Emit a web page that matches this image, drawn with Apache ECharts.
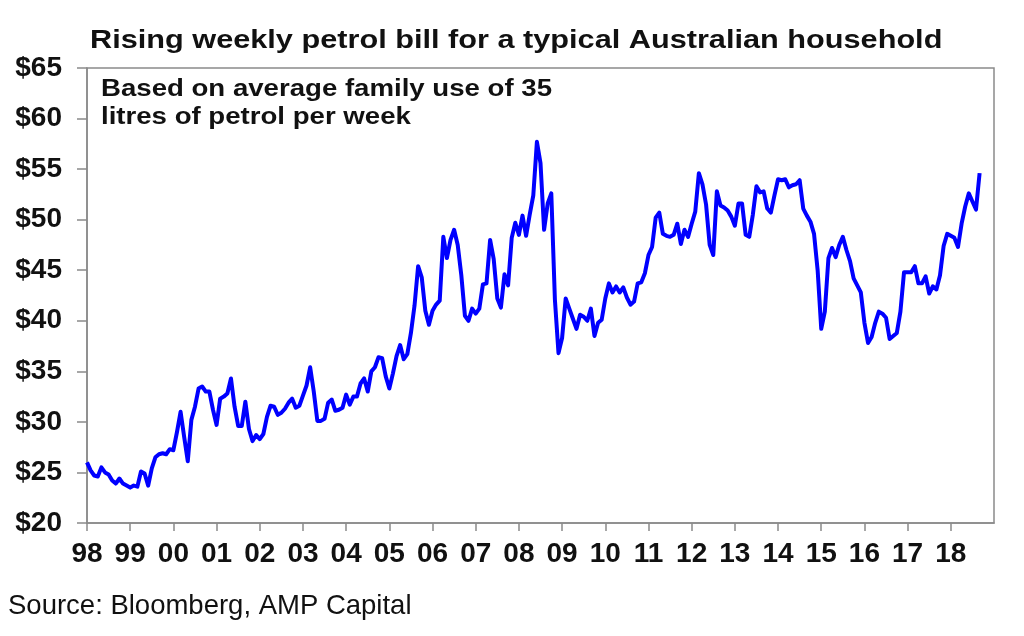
<!DOCTYPE html>
<html>
<head>
<meta charset="utf-8">
<script src="https://cdn.jsdelivr.net/npm/echarts@6/dist/echarts.min.js"></script>
<style>
html,body{margin:0;padding:0;background:#fff;}
#chart{width:1024px;height:636px;}
</style>
</head>
<body>
<div id="chart"></div>
<script>
// Weekly petrol bill (A$), monthly from Jan 1998
var startYear = 1998;
var bill1998to2001 = [
  26.0, 25.2, 24.7, 24.6, 25.5, 25.0, 24.8, 24.2, 23.9, 24.4, 23.9, 23.7,
  23.5, 23.7, 23.6, 25.1, 24.9, 23.7, 25.4, 26.5, 26.8, 26.9, 26.8, 27.3,
  27.2, 29.0, 31.0, 28.5, 26.1, 30.2, 31.5, 33.3, 33.5, 33.0, 33.0, 31.2,
  29.7, 32.3, 32.5, 32.8, 34.3, 31.5, 29.6, 29.6, 32.0, 29.3, 28.1, 28.7
];
var bill2002to2005 = [
  28.3, 28.8, 30.5, 31.6, 31.5, 30.7, 30.9, 31.3, 31.9, 32.3, 31.4, 31.6,
  32.6, 33.6, 35.4, 33.0, 30.1, 30.1, 30.3, 31.9, 32.2, 31.1, 31.2, 31.4,
  32.7, 31.7, 32.5, 32.5, 33.8, 34.3, 33.0, 35.0, 35.4, 36.4, 36.3, 34.5,
  33.3, 34.8, 36.5, 37.6, 36.2, 36.7, 38.8, 41.5, 45.4, 44.3, 41.0, 39.6
];
var bill2006to2009 = [
  41.0, 41.6, 42.0, 48.3, 46.2, 48.0, 49.0, 47.5, 44.5, 40.5, 40.0, 41.2,
  40.7, 41.2, 43.6, 43.7, 48.0, 46.1, 42.2, 41.3, 44.6, 43.5, 48.2, 49.7,
  48.5, 50.4, 48.4, 50.5, 52.4, 57.7, 55.6, 49.0, 51.6, 52.6, 42.1, 36.8,
  38.3, 42.2, 41.2, 40.2, 39.2, 40.6, 40.4, 40.0, 41.2, 38.5, 39.8, 40.1
];
var bill2010to2013 = [
  42.2, 43.7, 42.8, 43.4, 42.8, 43.3, 42.3, 41.6, 41.9, 43.7, 43.8, 44.7,
  46.5, 47.3, 50.2, 50.7, 48.6, 48.4, 48.3, 48.5, 49.6, 47.6, 49.0, 48.3,
  49.6, 50.8, 54.6, 53.5, 51.5, 47.5, 46.5, 52.8, 51.4, 51.2, 50.9, 50.3,
  49.4, 51.6, 51.6, 48.5, 48.3, 50.5, 53.3, 52.7, 52.8, 51.1, 50.7, 52.4
];
var bill2014to2018 = [
  54.0, 53.9, 54.0, 53.2, 53.4, 53.5, 53.9, 51.1, 50.4, 49.8, 48.6, 45.0,
  39.2, 40.9, 46.2, 47.2, 46.3, 47.5, 48.3, 47.0, 45.9, 44.2, 43.5, 42.8,
  39.8, 37.8, 38.4, 39.8, 40.9, 40.7, 40.3, 38.2, 38.5, 38.8, 40.9, 44.8,
  44.8, 44.8, 45.4, 43.7, 43.7, 44.4, 42.7, 43.4, 43.1, 44.5, 47.4, 48.6,
  48.4, 48.2, 47.3, 49.6, 51.3, 52.6, 51.8, 51.0, 54.6
];
var yTicks = [20, 25, 30, 35, 40, 45, 50, 55, 60, 65];
var titleText = 'Rising weekly petrol bill for a typical Australian household';
var noteLines = ['Based on average family use of 35', 'litres of petrol per week'];
var sourceText = 'Source: Bloomberg, AMP Capital';

var bill = [].concat(bill1998to2001, bill2002to2005, bill2006to2009, bill2010to2013, bill2014to2018);
var seriesData = bill.map(function (v, i) { return [startYear + i / 12, v]; });

var chart = echarts.init(document.getElementById('chart'), null, {renderer: 'canvas'});
var FONT = '"Liberation Sans", Arial, Helvetica, sans-serif';
chart.setOption({
  animation: false,
  backgroundColor: '#ffffff',
  grid: {
    left: 87, right: 30, top: 68, bottom: 113,
    show: true, borderColor: '#8a8a8a', borderWidth: 1.5, backgroundColor: 'transparent'
  },
  graphic: [
    {type: 'text', x: 90, y: 28, scaleX: 1.18, scaleY: 1,
     style: {text: titleText, fontFamily: FONT, fontWeight: 'bold', fontSize: 26,
             fill: '#111', verticalAlign: 'top', align: 'left'}},
    {type: 'text', x: 101, y: 76, scaleX: 1.2, scaleY: 1,
     style: {text: noteLines.join('\n'), fontFamily: FONT, fontWeight: 'bold', fontSize: 23,
             lineHeight: 28, fill: '#111', verticalAlign: 'top', align: 'left'}},
    {type: 'text', x: 8, y: 592,
     style: {text: sourceText, fontFamily: FONT, fontWeight: 'normal', fontSize: 27.5,
             fill: '#111', verticalAlign: 'top', align: 'left'}}
  ],
  xAxis: {
    type: 'value', min: 1998, max: 2019, interval: 1,
    axisLine: {show: true, lineStyle: {color: '#8a8a8a', width: 1.5}},
    axisTick: {show: true, length: 8, lineStyle: {color: '#8a8a8a', width: 1.5}},
    splitLine: {show: false},
    axisLabel: {
      margin: 17, fontFamily: FONT, fontWeight: 'bold', fontSize: 28, color: '#111',
      showMinLabel: true, showMaxLabel: false,
      formatter: function (v) { return v >= 2019 ? '' : String(v).slice(2); }
    }
  },
  yAxis: {
    type: 'value', min: yTicks[0], max: yTicks[yTicks.length - 1], interval: 5,
    axisLine: {show: true, lineStyle: {color: '#8a8a8a', width: 1.5}},
    axisTick: {show: true, length: 10, lineStyle: {color: '#8a8a8a', width: 1.5}},
    splitLine: {show: false},
    axisLabel: {
      margin: 25, fontFamily: FONT, fontWeight: 'bold', fontSize: 28, color: '#111',
      formatter: function (v) { return '$' + v; }
    }
  },
  series: [{
    type: 'line', data: seriesData, showSymbol: false, symbol: 'none',
    lineStyle: {color: '#0000ff', width: 4, join: 'round'},
    clip: true
  }]
});
</script>
</body>
</html>
